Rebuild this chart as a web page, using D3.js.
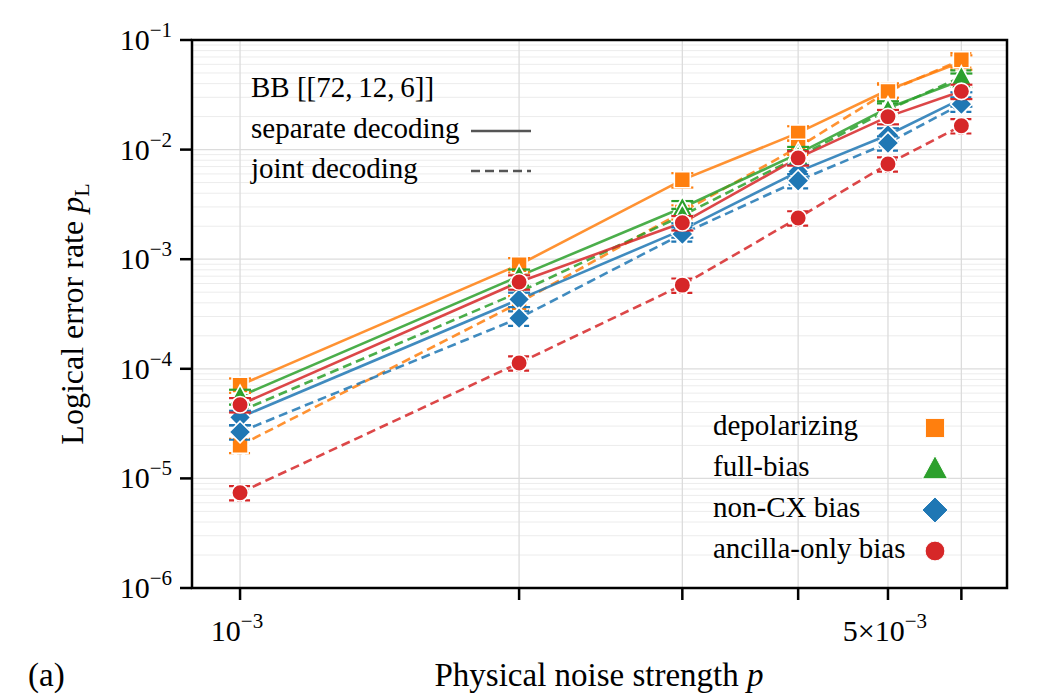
<!DOCTYPE html>
<html><head><meta charset="utf-8">
<script src="https://cdn.jsdelivr.net/npm/d3@7"></script>
<style>body{margin:0;background:#fff}svg{display:block}svg text{font-family:"Liberation Serif","Times New Roman","DejaVu Serif",serif;fill:#000}</style>
</head><body><svg id="c" width="1038" height="695"></svg>
<script>
// ---- data ----
const pValues = [1e-3, 2e-3, 3e-3, 4e-3, 5e-3, 6e-3];
const depSeparate   = [7.1e-5, 8.9e-4, 5.3e-3, 1.42e-2, 3.5e-2, 6.3e-2];
const depJoint      = [2.0e-5, 4.0e-4, 2.7e-3, 1.05e-2, 3.4e-2, 6.6e-2];
const fullSeparate  = [5.6e-5, 7.0e-4, 2.95e-3, 9.2e-3, 2.4e-2, 4.3e-2];
const fullJoint     = [4.1e-5, 5.0e-4, 2.5e-3, 8.6e-3, 2.3e-2, 4.6e-2];
const noncxSeparate = [3.6e-5, 4.3e-4, 1.85e-3, 6.3e-3, 1.36e-2, 2.9e-2];
const noncxJoint    = [2.65e-5, 2.9e-4, 1.7e-3, 5.2e-3, 1.15e-2, 2.6e-2];
const ancSeparate   = [4.7e-5, 6.2e-4, 2.15e-3, 8.4e-3, 2.0e-2, 3.4e-2];
const ancJoint      = [7.4e-6, 1.13e-4, 5.8e-4, 2.38e-3, 7.4e-3, 1.65e-2];
const relErr = 0.15; // approximate relative error-bar half-height
const noiseNames = ["depolarizing", "full-bias", "non-CX bias", "ancilla-only bias"];
const noiseColors = ["#ff7f0e", "#2ca02c", "#1f77b4", "#d62728"];
const noiseShapes = ["square", "triangle", "diamond", "circle"];
const decodingNames = ["separate decoding", "joint decoding"];
const xTickValues = [1e-3, 2e-3, 3e-3, 4e-3, 5e-3, 6e-3];
const xTickLabels = [["10","−3"], null, null, null, ["5×10","−3"], null];
const yTickExps = [-1, -2, -3, -4, -5, -6];

const series = [
  {noise:0, joint:false, v:depSeparate}, {noise:0, joint:true, v:depJoint},
  {noise:1, joint:false, v:fullSeparate}, {noise:1, joint:true, v:fullJoint},
  {noise:2, joint:false, v:noncxSeparate}, {noise:2, joint:true, v:noncxJoint},
  {noise:3, joint:false, v:ancSeparate}, {noise:3, joint:true, v:ancJoint}
];

const FONT = "'Liberation Serif', 'Times New Roman', 'DejaVu Serif', serif";

// ---- layout ----
const svg = d3.select("#c");
const L = 192, R = 1007, T = 40, B = 588;
const x = d3.scaleLog().domain([8.875e-4, 6.72e-3]).range([L, R]);
const y = d3.scaleLog().domain([1e-6, 1e-1]).range([B, T]);

// grid
const g = svg.append("g");
const minorY = [];
for (let e = -6; e < -1; e++) for (let m = 2; m <= 9; m++) minorY.push(m * Math.pow(10, e));
g.selectAll(".ym").data(minorY).join("line").attr("x1", L).attr("x2", R)
  .attr("y1", d => y(d)).attr("y2", d => y(d)).attr("stroke", "#ececec").attr("stroke-width", 1);
g.selectAll(".yM").data(yTickExps.map(e => Math.pow(10, e))).join("line").attr("x1", L).attr("x2", R)
  .attr("y1", d => y(d)).attr("y2", d => y(d)).attr("stroke", "#dcdcdc").attr("stroke-width", 1.3);
g.selectAll(".xM").data(xTickValues).join("line").attr("y1", T).attr("y2", B)
  .attr("x1", d => x(d)).attr("x2", d => x(d)).attr("stroke", "#dcdcdc").attr("stroke-width", 1.3);

// symbol helper
function sym(shape, s) {
  if (shape === "square") return `M${-s/2},${-s/2}h${s}v${s}h${-s}Z`;
  if (shape === "diamond") { const h = s * 0.72; return `M0,${-h}L${h},0L0,${h}L${-h},0Z`; }
  if (shape === "triangle") { const h = s * 0.95; return `M0,${-h*0.62}L${h*0.58},${h*0.45}L${-h*0.58},${h*0.45}Z`; }
  return d3.symbol().type(d3.symbolCircle).size(Math.PI * (s * 0.55) ** 2)();
}
const symS = {square: 16, triangle: 19, diamond: 15, circle: 15};

// lines
const line = d3.line().x((d, i) => x(pValues[i])).y(d => y(d));
const plot = svg.append("g");
series.forEach(s => {
  plot.append("path").attr("d", line(s.v)).attr("fill", "none")
    .attr("stroke", noiseColors[s.noise]).attr("stroke-opacity", 0.85).attr("stroke-width", 2.6)
    .attr("stroke-dasharray", s.joint ? "9,5" : null);
});
// error bars + markers
series.forEach(s => {
  const c = noiseColors[s.noise];
  const eg = plot.append("g");
  s.v.forEach((v, i) => {
    const cx = x(pValues[i]), lo = y(v * (1 - relErr)), hi = y(v * (1 + relErr));
    const dash = s.joint ? "5,3" : null;
    eg.append("line").attr("x1", cx).attr("x2", cx).attr("y1", lo).attr("y2", hi)
      .attr("stroke", c).attr("stroke-width", 2).attr("stroke-dasharray", dash);
    [lo, hi].forEach(yy => eg.append("line").attr("x1", cx - 11).attr("x2", cx + 11)
      .attr("y1", yy).attr("y2", yy).attr("stroke", c).attr("stroke-width", 2.2).attr("stroke-dasharray", dash));
  });
  plot.selectAll(null).data(s.v).join("path")
    .attr("d", sym(noiseShapes[s.noise], symS[noiseShapes[s.noise]]))
    .attr("transform", (d, i) => `translate(${x(pValues[i])},${y(d)})`)
    .attr("fill", c).attr("stroke", "#fff").attr("stroke-width", 1.6);
});

// frame
svg.append("rect").attr("x", L).attr("y", T).attr("width", R - L).attr("height", B - T)
  .attr("fill", "none").attr("stroke", "#000").attr("stroke-width", 2.5);

// axes ticks
const ax = svg.append("g");
xTickValues.forEach((v, i) => {
  ax.append("line").attr("x1", x(v)).attr("x2", x(v)).attr("y1", B).attr("y2", B + 12).attr("stroke", "#000").attr("stroke-width", 2.5);
  const lab = xTickLabels[i];
  if (lab) {
    const t = ax.append("text").attr("x", x(v) - 3).attr("y", 641).attr("text-anchor", "middle").attr("font-size", 30).attr("font-family", FONT);
    t.append("tspan").text(lab[0]);
    t.append("tspan").attr("dy", -13).attr("font-size", 21).text(lab[1]);
  }
});
yTickExps.forEach(e => {
  const yy = y(Math.pow(10, e));
  ax.append("line").attr("x1", L - 12).attr("x2", L).attr("y1", yy).attr("y2", yy).attr("stroke", "#000").attr("stroke-width", 2.5);
  const t = ax.append("text").attr("x", 172).attr("y", yy + 10).attr("text-anchor", "end").attr("font-size", 30).attr("font-family", FONT);
  t.append("tspan").text("10");
  t.append("tspan").attr("dy", -13).attr("font-size", 21).text("−" + Math.abs(e));
});

// axis labels
const xl = svg.append("text").attr("x", 599).attr("y", 686).attr("text-anchor", "middle").attr("font-size", 33).attr("font-family", FONT);
xl.append("tspan").text("Physical noise strength ");
xl.append("tspan").attr("font-style", "italic").text("p");
const yl = svg.append("text").attr("transform", "translate(83,314) rotate(-90)").attr("text-anchor", "middle").attr("font-size", 32).attr("font-family", FONT);
yl.append("tspan").text("Logical error rate ");
yl.append("tspan").attr("font-style", "italic").text("p");
yl.append("tspan").attr("dy", 6).attr("font-size", 22).text("L");
svg.append("text").attr("x", 28).attr("y", 686).attr("font-size", 33).attr("font-family", FONT).text("(a)");

// top legend
const tl = svg.append("g");
tl.append("text").attr("x", 251).attr("y", 97).attr("font-size", 29).attr("font-family", FONT).text("BB [[72,\u200912,\u20096]]");
decodingNames.forEach((n, i) => {
  const by = 138 + i * 40;
  tl.append("text").attr("x", 251).attr("y", by).attr("font-size", 29).attr("font-family", FONT).text(n);
  tl.append("line").attr("x1", 471).attr("x2", 531).attr("y1", by - 7).attr("y2", by - 7)
    .attr("stroke", "#555").attr("stroke-width", 2.6).attr("stroke-dasharray", i ? "9,5" : null);
});

// noise legend
const nl = svg.append("g");
noiseNames.forEach((n, i) => {
  const by = 435 + i * 41;
  nl.append("text").attr("x", 713).attr("y", by).attr("font-size", 29).attr("font-family", FONT).text(n);
  nl.append("path").attr("d", sym(noiseShapes[i], symS[noiseShapes[i]] * 1.2))
    .attr("transform", `translate(935,${by - 7})`)
    .attr("fill", noiseColors[i]).attr("stroke", "#fff").attr("stroke-width", 1);
});
</script></body></html>
